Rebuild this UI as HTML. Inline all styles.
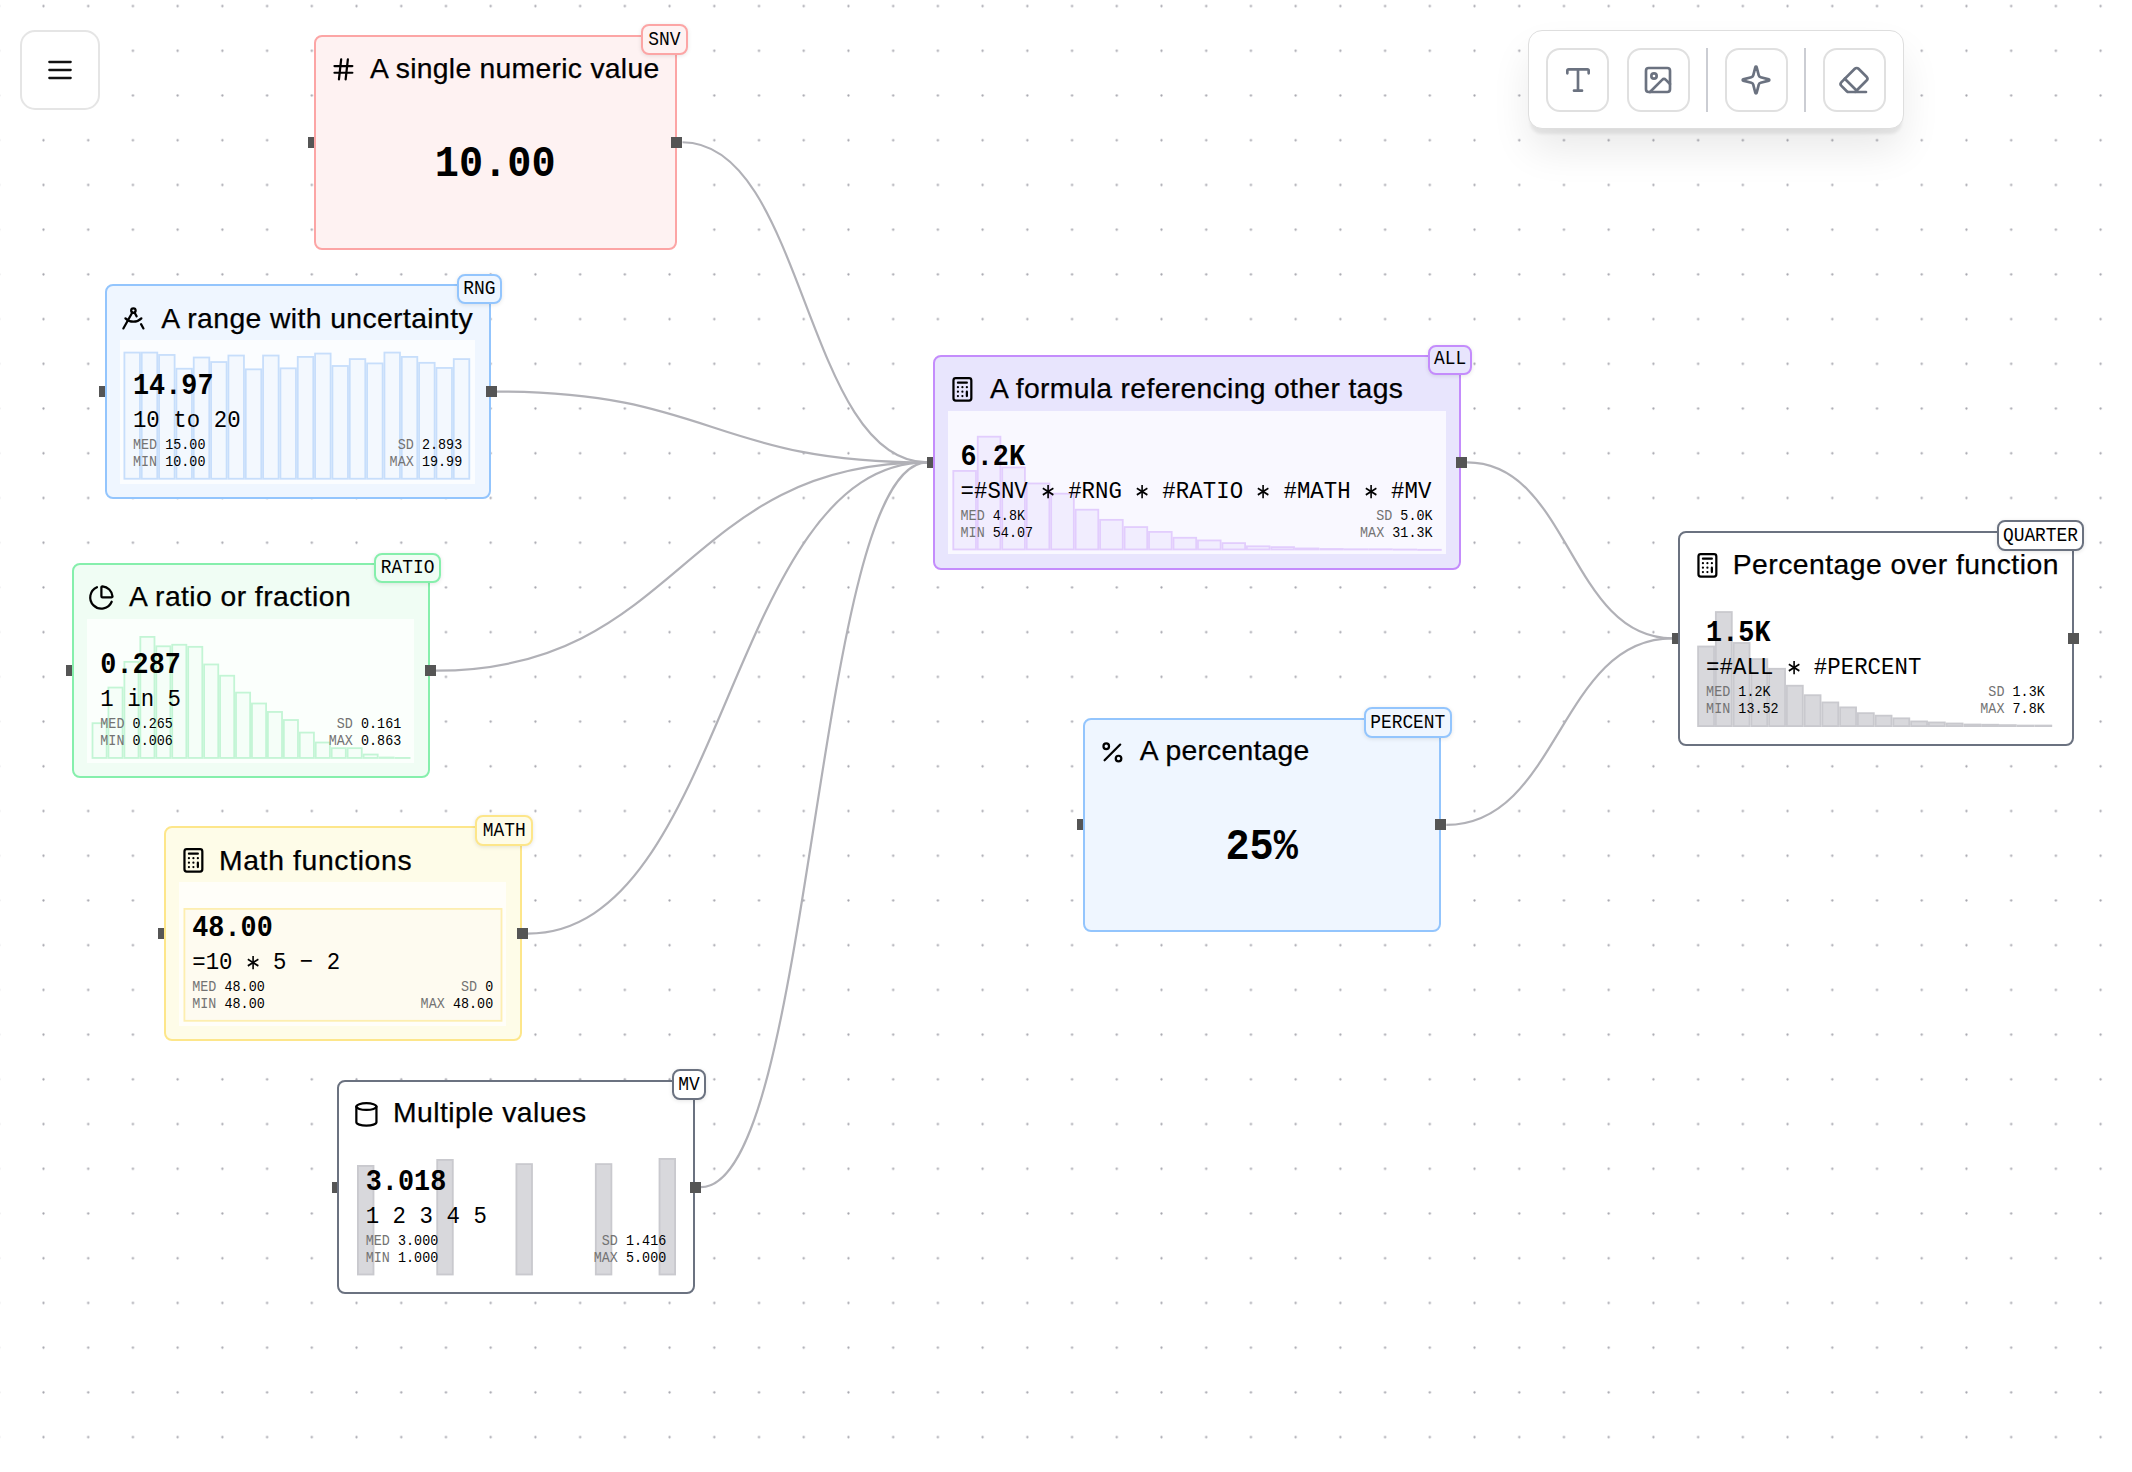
<!DOCTYPE html>
<html><head><meta charset="utf-8"><style>
html,body{margin:0;padding:0;width:2132px;height:1472px;overflow:hidden;background:#fff;}
body{position:relative;font-family:"Liberation Sans",sans-serif;}
</style></head><body>
<svg style="position:absolute;left:0;top:0" width="2132" height="1472"><defs><pattern id="dots" patternUnits="userSpaceOnUse" x="-23.580" y="-16.260" width="44.72" height="44.72"><circle cx="22.36" cy="22.36" r="1.15" fill="#a5a5ad"/></pattern></defs><rect width="2132" height="1472" fill="url(#dots)"/></svg>
<svg style="position:absolute;left:0;top:0" width="2132" height="1472" fill="none" stroke="#b1b1b7" stroke-width="2.2"><path d="M682.50,142.25 C804.90,142.25 804.90,462.45 927.30,462.45"/><path d="M496.70,391.60 C712.00,391.60 712.00,462.45 927.30,462.45"/><path d="M435.80,670.70 C681.55,670.70 681.55,462.45 927.30,462.45"/><path d="M527.70,933.55 C727.50,933.55 727.50,462.45 927.30,462.45"/><path d="M700.80,1187.10 C814.05,1187.10 814.05,462.45 927.30,462.45"/><path d="M1467.10,462.45 C1569.60,462.45 1569.60,638.30 1672.10,638.30"/><path d="M1446.30,824.85 C1559.20,824.85 1559.20,638.30 1672.10,638.30"/></svg>
<div style="position:absolute;left:308.00px;top:136.65px;width:11.2px;height:11.2px;background:#555"></div>
<div style="position:absolute;left:98.90px;top:386.00px;width:11.2px;height:11.2px;background:#555"></div>
<div style="position:absolute;left:66.30px;top:665.10px;width:11.2px;height:11.2px;background:#555"></div>
<div style="position:absolute;left:158.20px;top:927.95px;width:11.2px;height:11.2px;background:#555"></div>
<div style="position:absolute;left:331.70px;top:1181.50px;width:11.2px;height:11.2px;background:#555"></div>
<div style="position:absolute;left:927.30px;top:456.85px;width:11.2px;height:11.2px;background:#555"></div>
<div style="position:absolute;left:1672.10px;top:632.70px;width:11.2px;height:11.2px;background:#555"></div>
<div style="position:absolute;left:1077.00px;top:819.25px;width:11.2px;height:11.2px;background:#555"></div>
<div style="position:absolute;left:313.60px;top:34.60px;width:363.30px;height:215.30px;box-sizing:border-box;border:2.2px solid #fca5a5;border-radius:8px;background:#fef2f2"></div>
<svg style="position:absolute;left:329.50px;top:55.50px" width="26.80" height="26.80" viewBox="0 0 24 24" fill="none" stroke="#000" stroke-width="2" stroke-linecap="round" stroke-linejoin="round"><line x1="4" x2="20" y1="9" y2="9"/><line x1="4" x2="20" y1="15" y2="15"/><line x1="10" x2="8" y1="3" y2="21"/><line x1="16" x2="14" y1="3" y2="21"/></svg>
<div style="position:absolute;left:370.00px;top:54.04px;font-family:'Liberation Sans', sans-serif;font-size:28.30px;line-height:28.30px;color:#000;white-space:pre;letter-spacing:0.289px;-webkit-text-stroke:0.25px #000;">A single numeric value</div>
<div style="position:absolute;left:313.60px;width:363.30px;top:144.33px;text-align:center;font-family:'Liberation Mono',monospace;font-weight:700;font-size:40.25px;line-height:40.25px;color:#000;transform:scaleY(1.088)">10.00</div>
<div style="position:absolute;left:104.50px;top:283.90px;width:386.60px;height:215.40px;box-sizing:border-box;border:2.2px solid #93c5fd;border-radius:8px;background:#eff6ff"></div>
<svg style="position:absolute;left:120.40px;top:304.80px" width="26.80" height="26.80" viewBox="0 0 24 24" fill="none" stroke="#000" stroke-width="2" stroke-linecap="round" stroke-linejoin="round"><path d="m12.99 6.74 1.93 3.44"/><path d="M19.136 12a10 10 0 0 1-14.271 0"/><path d="m21 21-2.16-3.84"/><path d="m3 21 8.02-14.26"/><circle cx="12" cy="5" r="2"/></svg>
<div style="position:absolute;left:161.30px;top:303.64px;font-family:'Liberation Sans', sans-serif;font-size:28.30px;line-height:28.30px;color:#000;white-space:pre;letter-spacing:0.403px;-webkit-text-stroke:0.25px #000;">A range with uncertainty</div>
<div style="position:absolute;left:119.90px;top:340.30px;width:355.30px;height:143.40px;background:rgba(255,255,255,0.72)"></div>
<svg style="position:absolute;left:0;top:0" width="2132" height="1472" fill="#f3f8fe" stroke="#c7defb" stroke-width="1.8"><rect x="124.40" y="352.58" width="15.54" height="126.17"/><rect x="141.74" y="352.58" width="15.54" height="126.17"/><rect x="159.07" y="354.95" width="15.54" height="123.80"/><rect x="176.41" y="368.74" width="15.54" height="110.01"/><rect x="193.74" y="357.51" width="15.54" height="121.24"/><rect x="211.08" y="362.04" width="15.54" height="116.71"/><rect x="228.41" y="355.54" width="15.54" height="123.21"/><rect x="245.75" y="369.33" width="15.54" height="109.42"/><rect x="263.08" y="355.54" width="15.54" height="123.21"/><rect x="280.41" y="368.34" width="15.54" height="110.41"/><rect x="297.75" y="356.92" width="15.54" height="121.83"/><rect x="315.08" y="353.57" width="15.54" height="125.18"/><rect x="332.42" y="365.98" width="15.54" height="112.77"/><rect x="349.75" y="359.08" width="15.54" height="119.67"/><rect x="367.09" y="363.42" width="15.54" height="115.33"/><rect x="384.43" y="352.58" width="15.54" height="126.17"/><rect x="401.76" y="356.92" width="15.54" height="121.83"/><rect x="419.09" y="362.83" width="15.54" height="115.92"/><rect x="436.43" y="367.95" width="15.54" height="110.80"/><rect x="453.76" y="359.08" width="15.54" height="119.67"/></svg>
<div style="position:absolute;left:132.90px;top:373.76px;font-family:'Liberation Mono', monospace;font-size:26.80px;line-height:26.80px;font-weight:700;color:#000;white-space:pre;transform:scaleY(1.088);transform-origin:0 20.54px;letter-spacing:0.054px;">14.97</div>
<div style="position:absolute;left:132.90px;top:410.16px;font-family:'Liberation Mono', monospace;font-size:22.36px;line-height:22.36px;color:#000;white-space:pre;transform:scaleY(1.088);transform-origin:0 17.14px;letter-spacing:0.045px;">10 to 20</div>
<div style="position:absolute;left:132.90px;top:439.03px;font-family:'Liberation Mono', monospace;font-size:13.40px;line-height:13.40px;color:#000;white-space:pre;transform:scaleY(1.088);transform-origin:0 10.27px;letter-spacing:0.027px;"><span style="color:#737373">MED</span> 15.00</div>
<div style="position:absolute;left:132.90px;top:455.73px;font-family:'Liberation Mono', monospace;font-size:13.40px;line-height:13.40px;color:#000;white-space:pre;transform:scaleY(1.088);transform-origin:0 10.27px;letter-spacing:0.027px;"><span style="color:#737373">MIN</span> 10.00</div>
<div style="position:absolute;right:1669.80px;top:439.03px;font-family:'Liberation Mono', monospace;font-size:13.40px;line-height:13.40px;color:#000;white-space:pre;transform:scaleY(1.088);transform-origin:0 10.27px;letter-spacing:0.027px;"><span style="color:#737373">SD</span> 2.893</div>
<div style="position:absolute;right:1669.80px;top:455.73px;font-family:'Liberation Mono', monospace;font-size:13.40px;line-height:13.40px;color:#000;white-space:pre;transform:scaleY(1.088);transform-origin:0 10.27px;letter-spacing:0.027px;"><span style="color:#737373">MAX</span> 19.99</div>
<div style="position:absolute;left:71.90px;top:562.90px;width:358.30px;height:215.60px;box-sizing:border-box;border:2.2px solid #86efac;border-radius:8px;background:#f0fdf4"></div>
<svg style="position:absolute;left:87.80px;top:583.80px" width="26.80" height="26.80" viewBox="0 0 24 24" fill="none" stroke="#000" stroke-width="2" stroke-linecap="round" stroke-linejoin="round"><path d="M21 12c.552 0 1.005-.449.95-.998a10 10 0 0 0-8.953-8.951c-.55-.055-.998.398-.998.95v8a1 1 0 0 0 1 1z"/><path d="M21.21 15.89A10 10 0 1 1 8 2.83"/></svg>
<div style="position:absolute;left:129.00px;top:582.04px;font-family:'Liberation Sans', sans-serif;font-size:28.30px;line-height:28.30px;color:#000;white-space:pre;letter-spacing:0.432px;-webkit-text-stroke:0.25px #000;">A ratio or fraction</div>
<div style="position:absolute;left:87.30px;top:619.30px;width:327.00px;height:143.60px;background:rgba(255,255,255,0.72)"></div>
<svg style="position:absolute;left:0;top:0" width="2132" height="1472" fill="#f5fef8" stroke="#c3f5d5" stroke-width="1.8"><rect x="92.50" y="723.20" width="14.14" height="34.75"/><rect x="108.44" y="687.55" width="14.14" height="70.39"/><rect x="124.39" y="661.85" width="14.14" height="96.10"/><rect x="140.34" y="636.89" width="14.14" height="121.05"/><rect x="156.28" y="646.28" width="14.14" height="111.67"/><rect x="172.22" y="644.77" width="14.14" height="113.17"/><rect x="188.17" y="646.84" width="14.14" height="111.11"/><rect x="204.11" y="664.47" width="14.14" height="93.47"/><rect x="220.06" y="675.73" width="14.14" height="82.21"/><rect x="236.00" y="692.62" width="14.14" height="65.33"/><rect x="251.95" y="703.50" width="14.14" height="54.45"/><rect x="267.89" y="711.94" width="14.14" height="46.00"/><rect x="283.84" y="720.01" width="14.14" height="37.94"/><rect x="299.78" y="732.58" width="14.14" height="25.37"/><rect x="315.73" y="742.52" width="14.14" height="15.42"/><rect x="331.67" y="748.15" width="14.14" height="9.79"/><rect x="347.62" y="748.15" width="14.14" height="9.79"/><rect x="363.56" y="754.53" width="14.14" height="3.42"/><rect x="379.51" y="757.53" width="14.14" height="0.41"/><rect x="395.45" y="757.91" width="14.14" height="0.10"/></svg>
<div style="position:absolute;left:100.30px;top:652.76px;font-family:'Liberation Mono', monospace;font-size:26.80px;line-height:26.80px;font-weight:700;color:#000;white-space:pre;transform:scaleY(1.088);transform-origin:0 20.54px;letter-spacing:0.054px;">0.287</div>
<div style="position:absolute;left:100.30px;top:689.16px;font-family:'Liberation Mono', monospace;font-size:22.36px;line-height:22.36px;color:#000;white-space:pre;transform:scaleY(1.088);transform-origin:0 17.14px;letter-spacing:0.045px;">1 in 5</div>
<div style="position:absolute;left:100.30px;top:718.03px;font-family:'Liberation Mono', monospace;font-size:13.40px;line-height:13.40px;color:#000;white-space:pre;transform:scaleY(1.088);transform-origin:0 10.27px;letter-spacing:0.027px;"><span style="color:#737373">MED</span> 0.265</div>
<div style="position:absolute;left:100.30px;top:734.73px;font-family:'Liberation Mono', monospace;font-size:13.40px;line-height:13.40px;color:#000;white-space:pre;transform:scaleY(1.088);transform-origin:0 10.27px;letter-spacing:0.027px;"><span style="color:#737373">MIN</span> 0.006</div>
<div style="position:absolute;right:1730.70px;top:718.03px;font-family:'Liberation Mono', monospace;font-size:13.40px;line-height:13.40px;color:#000;white-space:pre;transform:scaleY(1.088);transform-origin:0 10.27px;letter-spacing:0.027px;"><span style="color:#737373">SD</span> 0.161</div>
<div style="position:absolute;right:1730.70px;top:734.73px;font-family:'Liberation Mono', monospace;font-size:13.40px;line-height:13.40px;color:#000;white-space:pre;transform:scaleY(1.088);transform-origin:0 10.27px;letter-spacing:0.027px;"><span style="color:#737373">MAX</span> 0.863</div>
<div style="position:absolute;left:163.80px;top:825.70px;width:358.30px;height:215.70px;box-sizing:border-box;border:2.2px solid #fde68a;border-radius:8px;background:#fefce8"></div>
<svg style="position:absolute;left:179.70px;top:846.60px" width="26.80" height="26.80" viewBox="0 0 24 24" fill="none" stroke="#000" stroke-width="2" stroke-linecap="round" stroke-linejoin="round"><rect width="16" height="20" x="4" y="2" rx="2"/><line x1="8" x2="16" y1="6" y2="6"/><line x1="16" x2="16" y1="14" y2="18"/><path d="M16 10h.01"/><path d="M12 10h.01"/><path d="M8 10h.01"/><path d="M12 14h.01"/><path d="M8 14h.01"/><path d="M12 18h.01"/><path d="M8 18h.01"/></svg>
<div style="position:absolute;left:219.00px;top:845.74px;font-family:'Liberation Sans', sans-serif;font-size:28.30px;line-height:28.30px;color:#000;white-space:pre;letter-spacing:0.655px;-webkit-text-stroke:0.25px #000;">Math functions</div>
<div style="position:absolute;left:179.20px;top:882.10px;width:327.00px;height:143.70px;background:rgba(255,255,255,0.72)"></div>
<svg style="position:absolute;left:0;top:0" width="2132" height="1472" fill="#fefbf0" stroke="#fdeeb0" stroke-width="1.8"><rect x="184.4" y="908.9" width="317.1" height="111.9"/></svg>
<div style="position:absolute;left:192.20px;top:915.56px;font-family:'Liberation Mono', monospace;font-size:26.80px;line-height:26.80px;font-weight:700;color:#000;white-space:pre;transform:scaleY(1.088);transform-origin:0 20.54px;letter-spacing:0.054px;">48.00</div>
<div style="position:absolute;left:192.20px;top:951.96px;font-family:'Liberation Mono', monospace;font-size:22.36px;line-height:22.36px;color:#000;white-space:pre;transform:scaleY(1.088);transform-origin:0 17.14px;letter-spacing:0.045px;">=10 <span style="position:relative;display:inline-block;width:13.42px;height:0"><svg style="position:absolute;left:-1.39px;top:-14.50px" width="16.20" height="16.20" viewBox="-8.10 -8.10 16.20 16.20" stroke="#000" stroke-width="1.60"><line x1="0" y1="-6.10" x2="0" y2="6.10"/><line x1="-5.28" y1="-3.05" x2="5.28" y2="3.05"/><line x1="-5.28" y1="3.05" x2="5.28" y2="-3.05"/></svg></span> 5 − 2</div>
<div style="position:absolute;left:192.20px;top:980.83px;font-family:'Liberation Mono', monospace;font-size:13.40px;line-height:13.40px;color:#000;white-space:pre;transform:scaleY(1.088);transform-origin:0 10.27px;letter-spacing:0.027px;"><span style="color:#737373">MED</span> 48.00</div>
<div style="position:absolute;left:192.20px;top:997.53px;font-family:'Liberation Mono', monospace;font-size:13.40px;line-height:13.40px;color:#000;white-space:pre;transform:scaleY(1.088);transform-origin:0 10.27px;letter-spacing:0.027px;"><span style="color:#737373">MIN</span> 48.00</div>
<div style="position:absolute;right:1638.80px;top:980.83px;font-family:'Liberation Mono', monospace;font-size:13.40px;line-height:13.40px;color:#000;white-space:pre;transform:scaleY(1.088);transform-origin:0 10.27px;letter-spacing:0.027px;"><span style="color:#737373">SD</span> 0</div>
<div style="position:absolute;right:1638.80px;top:997.53px;font-family:'Liberation Mono', monospace;font-size:13.40px;line-height:13.40px;color:#000;white-space:pre;transform:scaleY(1.088);transform-origin:0 10.27px;letter-spacing:0.027px;"><span style="color:#737373">MAX</span> 48.00</div>
<div style="position:absolute;left:337.30px;top:1079.70px;width:357.90px;height:214.80px;box-sizing:border-box;border:2.2px solid #6b7280;border-radius:8px;background:#ffffff"></div>
<svg style="position:absolute;left:353.20px;top:1100.60px" width="26.80" height="26.80" viewBox="0 0 24 24" fill="none" stroke="#000" stroke-width="2" stroke-linecap="round" stroke-linejoin="round"><ellipse cx="12" cy="5" rx="9" ry="3"/><path d="M3 5v14a9 3 0 0 0 18 0V5"/></svg>
<div style="position:absolute;left:393.00px;top:1097.94px;font-family:'Liberation Sans', sans-serif;font-size:28.30px;line-height:28.30px;color:#000;white-space:pre;letter-spacing:0.428px;-webkit-text-stroke:0.25px #000;">Multiple values</div>
<svg style="position:absolute;left:0;top:0" width="2132" height="1472" fill="#d8d8dc" stroke="#c9c9ce" stroke-width="1.8"><rect x="357.90" y="1165.90" width="15.60" height="108.60"/><rect x="437.20" y="1159.90" width="15.60" height="114.60"/><rect x="516.40" y="1164.10" width="15.60" height="110.40"/><rect x="595.80" y="1164.10" width="15.60" height="110.40"/><rect x="659.50" y="1158.90" width="15.60" height="115.60"/></svg>
<div style="position:absolute;left:365.70px;top:1169.56px;font-family:'Liberation Mono', monospace;font-size:26.80px;line-height:26.80px;font-weight:700;color:#000;white-space:pre;transform:scaleY(1.088);transform-origin:0 20.54px;letter-spacing:0.054px;">3.018</div>
<div style="position:absolute;left:365.70px;top:1205.96px;font-family:'Liberation Mono', monospace;font-size:22.36px;line-height:22.36px;color:#000;white-space:pre;transform:scaleY(1.088);transform-origin:0 17.14px;letter-spacing:0.045px;">1 2 3 4 5</div>
<div style="position:absolute;left:365.70px;top:1234.83px;font-family:'Liberation Mono', monospace;font-size:13.40px;line-height:13.40px;color:#000;white-space:pre;transform:scaleY(1.088);transform-origin:0 10.27px;letter-spacing:0.027px;"><span style="color:#737373">MED</span> 3.000</div>
<div style="position:absolute;left:365.70px;top:1251.53px;font-family:'Liberation Mono', monospace;font-size:13.40px;line-height:13.40px;color:#000;white-space:pre;transform:scaleY(1.088);transform-origin:0 10.27px;letter-spacing:0.027px;"><span style="color:#737373">MIN</span> 1.000</div>
<div style="position:absolute;right:1465.70px;top:1234.83px;font-family:'Liberation Mono', monospace;font-size:13.40px;line-height:13.40px;color:#000;white-space:pre;transform:scaleY(1.088);transform-origin:0 10.27px;letter-spacing:0.027px;"><span style="color:#737373">SD</span> 1.416</div>
<div style="position:absolute;right:1465.70px;top:1251.53px;font-family:'Liberation Mono', monospace;font-size:13.40px;line-height:13.40px;color:#000;white-space:pre;transform:scaleY(1.088);transform-origin:0 10.27px;letter-spacing:0.027px;"><span style="color:#737373">MAX</span> 5.000</div>
<div style="position:absolute;left:932.90px;top:355.00px;width:528.60px;height:214.90px;box-sizing:border-box;border:2.2px solid #c48cfc;border-radius:8px;background:#e8e5fd"></div>
<svg style="position:absolute;left:948.80px;top:375.90px" width="26.80" height="26.80" viewBox="0 0 24 24" fill="none" stroke="#000" stroke-width="2" stroke-linecap="round" stroke-linejoin="round"><rect width="16" height="20" x="4" y="2" rx="2"/><line x1="8" x2="16" y1="6" y2="6"/><line x1="16" x2="16" y1="14" y2="18"/><path d="M16 10h.01"/><path d="M12 10h.01"/><path d="M8 10h.01"/><path d="M12 14h.01"/><path d="M8 14h.01"/><path d="M12 18h.01"/><path d="M8 18h.01"/></svg>
<div style="position:absolute;left:989.90px;top:374.44px;font-family:'Liberation Sans', sans-serif;font-size:28.30px;line-height:28.30px;color:#000;white-space:pre;letter-spacing:0.333px;-webkit-text-stroke:0.25px #000;">A formula referencing other tags</div>
<div style="position:absolute;left:948.30px;top:411.40px;width:497.30px;height:142.90px;background:rgba(255,255,255,0.72)"></div>
<svg style="position:absolute;left:0;top:0" width="2132" height="1472" fill="#f1edfe" stroke="#e2cdfd" stroke-width="1.8"><rect x="953.30" y="470.93" width="22.67" height="78.51"/><rect x="977.76" y="436.70" width="22.67" height="112.74"/><rect x="1002.23" y="467.45" width="22.67" height="81.99"/><rect x="1026.70" y="483.49" width="22.67" height="65.94"/><rect x="1051.16" y="493.65" width="22.67" height="55.78"/><rect x="1075.62" y="509.70" width="22.67" height="39.74"/><rect x="1100.09" y="519.86" width="22.67" height="29.58"/><rect x="1124.56" y="527.08" width="22.67" height="22.36"/><rect x="1149.02" y="531.89" width="22.67" height="17.55"/><rect x="1173.49" y="537.77" width="22.67" height="11.67"/><rect x="1197.95" y="540.45" width="22.67" height="8.99"/><rect x="1222.41" y="543.12" width="22.67" height="6.32"/><rect x="1246.88" y="546.33" width="22.67" height="3.11"/><rect x="1271.35" y="547.13" width="22.67" height="2.31"/><rect x="1295.81" y="548.47" width="22.67" height="0.97"/><rect x="1320.28" y="549.00" width="22.67" height="0.44"/><rect x="1344.74" y="549.27" width="22.67" height="0.17"/><rect x="1369.21" y="549.27" width="22.67" height="0.17"/><rect x="1393.67" y="549.54" width="22.67" height="0.10"/><rect x="1418.14" y="549.80" width="22.67" height="0.10"/></svg>
<div style="position:absolute;left:960.50px;top:445.36px;font-family:'Liberation Mono', monospace;font-size:26.80px;line-height:26.80px;font-weight:700;color:#000;white-space:pre;transform:scaleY(1.088);transform-origin:0 20.54px;letter-spacing:0.054px;">6.2K</div>
<div style="position:absolute;left:960.50px;top:481.26px;font-family:'Liberation Mono', monospace;font-size:22.36px;line-height:22.36px;color:#000;white-space:pre;transform:scaleY(1.088);transform-origin:0 17.14px;letter-spacing:0.045px;">=#SNV <span style="position:relative;display:inline-block;width:13.42px;height:0"><svg style="position:absolute;left:-1.39px;top:-14.50px" width="16.20" height="16.20" viewBox="-8.10 -8.10 16.20 16.20" stroke="#000" stroke-width="1.60"><line x1="0" y1="-6.10" x2="0" y2="6.10"/><line x1="-5.28" y1="-3.05" x2="5.28" y2="3.05"/><line x1="-5.28" y1="3.05" x2="5.28" y2="-3.05"/></svg></span> #RNG <span style="position:relative;display:inline-block;width:13.42px;height:0"><svg style="position:absolute;left:-1.39px;top:-14.50px" width="16.20" height="16.20" viewBox="-8.10 -8.10 16.20 16.20" stroke="#000" stroke-width="1.60"><line x1="0" y1="-6.10" x2="0" y2="6.10"/><line x1="-5.28" y1="-3.05" x2="5.28" y2="3.05"/><line x1="-5.28" y1="3.05" x2="5.28" y2="-3.05"/></svg></span> #RATIO <span style="position:relative;display:inline-block;width:13.42px;height:0"><svg style="position:absolute;left:-1.39px;top:-14.50px" width="16.20" height="16.20" viewBox="-8.10 -8.10 16.20 16.20" stroke="#000" stroke-width="1.60"><line x1="0" y1="-6.10" x2="0" y2="6.10"/><line x1="-5.28" y1="-3.05" x2="5.28" y2="3.05"/><line x1="-5.28" y1="3.05" x2="5.28" y2="-3.05"/></svg></span> #MATH <span style="position:relative;display:inline-block;width:13.42px;height:0"><svg style="position:absolute;left:-1.39px;top:-14.50px" width="16.20" height="16.20" viewBox="-8.10 -8.10 16.20 16.20" stroke="#000" stroke-width="1.60"><line x1="0" y1="-6.10" x2="0" y2="6.10"/><line x1="-5.28" y1="-3.05" x2="5.28" y2="3.05"/><line x1="-5.28" y1="3.05" x2="5.28" y2="-3.05"/></svg></span> #MV</div>
<div style="position:absolute;left:960.50px;top:510.13px;font-family:'Liberation Mono', monospace;font-size:13.40px;line-height:13.40px;color:#000;white-space:pre;transform:scaleY(1.088);transform-origin:0 10.27px;letter-spacing:0.027px;"><span style="color:#737373">MED</span> 4.8K</div>
<div style="position:absolute;left:960.50px;top:526.83px;font-family:'Liberation Mono', monospace;font-size:13.40px;line-height:13.40px;color:#000;white-space:pre;transform:scaleY(1.088);transform-origin:0 10.27px;letter-spacing:0.027px;"><span style="color:#737373">MIN</span> 54.07</div>
<div style="position:absolute;right:699.40px;top:510.13px;font-family:'Liberation Mono', monospace;font-size:13.40px;line-height:13.40px;color:#000;white-space:pre;transform:scaleY(1.088);transform-origin:0 10.27px;letter-spacing:0.027px;"><span style="color:#737373">SD</span> 5.0K</div>
<div style="position:absolute;right:699.40px;top:526.83px;font-family:'Liberation Mono', monospace;font-size:13.40px;line-height:13.40px;color:#000;white-space:pre;transform:scaleY(1.088);transform-origin:0 10.27px;letter-spacing:0.027px;"><span style="color:#737373">MAX</span> 31.3K</div>
<div style="position:absolute;left:1677.70px;top:530.80px;width:396.00px;height:215.00px;box-sizing:border-box;border:2.2px solid #6b7280;border-radius:8px;background:#ffffff"></div>
<svg style="position:absolute;left:1693.60px;top:551.70px" width="26.80" height="26.80" viewBox="0 0 24 24" fill="none" stroke="#000" stroke-width="2" stroke-linecap="round" stroke-linejoin="round"><rect width="16" height="20" x="4" y="2" rx="2"/><line x1="8" x2="16" y1="6" y2="6"/><line x1="16" x2="16" y1="14" y2="18"/><path d="M16 10h.01"/><path d="M12 10h.01"/><path d="M8 10h.01"/><path d="M12 14h.01"/><path d="M8 14h.01"/><path d="M12 18h.01"/><path d="M8 18h.01"/></svg>
<div style="position:absolute;left:1732.70px;top:550.04px;font-family:'Liberation Sans', sans-serif;font-size:28.30px;line-height:28.30px;color:#000;white-space:pre;letter-spacing:0.484px;-webkit-text-stroke:0.25px #000;">Percentage over function</div>
<svg style="position:absolute;left:0;top:0" width="2132" height="1472" fill="#d8d8dc" stroke="#c9c9ce" stroke-width="1.8"><rect x="1698.10" y="646.50" width="15.95" height="79.60"/><rect x="1715.85" y="612.04" width="15.95" height="114.06"/><rect x="1733.60" y="642.99" width="15.95" height="83.10"/><rect x="1751.35" y="659.09" width="15.95" height="67.01"/><rect x="1769.10" y="668.79" width="15.95" height="57.30"/><rect x="1786.85" y="685.72" width="15.95" height="40.38"/><rect x="1804.60" y="695.21" width="15.95" height="30.89"/><rect x="1822.35" y="702.44" width="15.95" height="23.66"/><rect x="1840.10" y="707.39" width="15.95" height="18.71"/><rect x="1857.85" y="713.17" width="15.95" height="12.93"/><rect x="1875.60" y="715.65" width="15.95" height="10.45"/><rect x="1893.35" y="718.33" width="15.95" height="7.77"/><rect x="1911.10" y="721.43" width="15.95" height="4.67"/><rect x="1928.85" y="722.46" width="15.95" height="3.64"/><rect x="1946.60" y="723.49" width="15.95" height="2.61"/><rect x="1964.35" y="724.52" width="15.95" height="1.58"/><rect x="1982.10" y="724.73" width="15.95" height="1.37"/><rect x="1999.85" y="725.14" width="15.95" height="0.96"/><rect x="2017.60" y="725.55" width="15.95" height="0.54"/><rect x="2035.35" y="725.55" width="15.95" height="0.54"/></svg>
<div style="position:absolute;left:1706.10px;top:620.66px;font-family:'Liberation Mono', monospace;font-size:26.80px;line-height:26.80px;font-weight:700;color:#000;white-space:pre;transform:scaleY(1.088);transform-origin:0 20.54px;letter-spacing:0.054px;">1.5K</div>
<div style="position:absolute;left:1706.10px;top:657.06px;font-family:'Liberation Mono', monospace;font-size:22.36px;line-height:22.36px;color:#000;white-space:pre;transform:scaleY(1.088);transform-origin:0 17.14px;letter-spacing:0.045px;">=#ALL <span style="position:relative;display:inline-block;width:13.42px;height:0"><svg style="position:absolute;left:-1.39px;top:-14.50px" width="16.20" height="16.20" viewBox="-8.10 -8.10 16.20 16.20" stroke="#000" stroke-width="1.60"><line x1="0" y1="-6.10" x2="0" y2="6.10"/><line x1="-5.28" y1="-3.05" x2="5.28" y2="3.05"/><line x1="-5.28" y1="3.05" x2="5.28" y2="-3.05"/></svg></span> #PERCENT</div>
<div style="position:absolute;left:1706.10px;top:685.93px;font-family:'Liberation Mono', monospace;font-size:13.40px;line-height:13.40px;color:#000;white-space:pre;transform:scaleY(1.088);transform-origin:0 10.27px;letter-spacing:0.027px;"><span style="color:#737373">MED</span> 1.2K</div>
<div style="position:absolute;left:1706.10px;top:702.63px;font-family:'Liberation Mono', monospace;font-size:13.40px;line-height:13.40px;color:#000;white-space:pre;transform:scaleY(1.088);transform-origin:0 10.27px;letter-spacing:0.027px;"><span style="color:#737373">MIN</span> 13.52</div>
<div style="position:absolute;right:87.20px;top:685.93px;font-family:'Liberation Mono', monospace;font-size:13.40px;line-height:13.40px;color:#000;white-space:pre;transform:scaleY(1.088);transform-origin:0 10.27px;letter-spacing:0.027px;"><span style="color:#737373">SD</span> 1.3K</div>
<div style="position:absolute;right:87.20px;top:702.63px;font-family:'Liberation Mono', monospace;font-size:13.40px;line-height:13.40px;color:#000;white-space:pre;transform:scaleY(1.088);transform-origin:0 10.27px;letter-spacing:0.027px;"><span style="color:#737373">MAX</span> 7.8K</div>
<div style="position:absolute;left:1082.60px;top:717.60px;width:358.10px;height:214.50px;box-sizing:border-box;border:2.2px solid #93c5fd;border-radius:8px;background:#eff6ff"></div>
<svg style="position:absolute;left:1098.50px;top:738.50px" width="26.80" height="26.80" viewBox="0 0 24 24" fill="none" stroke="#000" stroke-width="2" stroke-linecap="round" stroke-linejoin="round"><line x1="19" x2="5" y1="5" y2="19"/><circle cx="6.5" cy="6.5" r="2.5"/><circle cx="17.5" cy="17.5" r="2.5"/></svg>
<div style="position:absolute;left:1139.80px;top:736.44px;font-family:'Liberation Sans', sans-serif;font-size:28.30px;line-height:28.30px;color:#000;white-space:pre;letter-spacing:0.237px;-webkit-text-stroke:0.25px #000;">A percentage</div>
<div style="position:absolute;left:1082.60px;width:358.10px;top:826.92px;text-align:center;font-family:'Liberation Mono',monospace;font-weight:700;font-size:40.25px;line-height:40.25px;color:#000;transform:scaleY(1.088)">25%</div>
<div style="position:absolute;left:671.30px;top:136.65px;width:11.2px;height:11.2px;background:#555"></div>
<div style="position:absolute;left:485.50px;top:386.00px;width:11.2px;height:11.2px;background:#555"></div>
<div style="position:absolute;left:424.60px;top:665.10px;width:11.2px;height:11.2px;background:#555"></div>
<div style="position:absolute;left:516.50px;top:927.95px;width:11.2px;height:11.2px;background:#555"></div>
<div style="position:absolute;left:689.60px;top:1181.50px;width:11.2px;height:11.2px;background:#555"></div>
<div style="position:absolute;left:1455.90px;top:456.85px;width:11.2px;height:11.2px;background:#555"></div>
<div style="position:absolute;left:2068.10px;top:632.70px;width:11.2px;height:11.2px;background:#555"></div>
<div style="position:absolute;left:1435.10px;top:819.25px;width:11.2px;height:11.2px;background:#555"></div>
<div style="position:absolute;left:640.80px;top:23.80px;width:47.30px;height:31.60px;box-sizing:border-box;border:2.2px solid #fca5a5;border-radius:8px;background:#fef2f2;box-shadow:0 1px 4px rgba(0,0,0,0.10);font-family:'Liberation Mono',monospace;font-size:17.9px;line-height:27.20px;text-align:center;color:#000"><span style="position:relative;top:0.9px;display:inline-block;transform:scaleY(1.088)">SNV</span></div>
<div style="position:absolute;left:456.70px;top:273.50px;width:45.30px;height:30.60px;box-sizing:border-box;border:2.2px solid #93c5fd;border-radius:8px;background:#eff6ff;box-shadow:0 1px 4px rgba(0,0,0,0.10);font-family:'Liberation Mono',monospace;font-size:17.9px;line-height:26.20px;text-align:center;color:#000"><span style="position:relative;top:0.9px;display:inline-block;transform:scaleY(1.088)">RNG</span></div>
<div style="position:absolute;left:374.20px;top:553.00px;width:67.00px;height:30.20px;box-sizing:border-box;border:2.2px solid #86efac;border-radius:8px;background:#f0fdf4;box-shadow:0 1px 4px rgba(0,0,0,0.10);font-family:'Liberation Mono',monospace;font-size:17.9px;line-height:25.80px;text-align:center;color:#000"><span style="position:relative;top:0.9px;display:inline-block;transform:scaleY(1.088)">RATIO</span></div>
<div style="position:absolute;left:475.30px;top:814.90px;width:57.80px;height:31.10px;box-sizing:border-box;border:2.2px solid #fde68a;border-radius:8px;background:#fefce8;box-shadow:0 1px 4px rgba(0,0,0,0.10);font-family:'Liberation Mono',monospace;font-size:17.9px;line-height:26.70px;text-align:center;color:#000"><span style="position:relative;top:0.9px;display:inline-block;transform:scaleY(1.088)">MATH</span></div>
<div style="position:absolute;left:672.00px;top:1069.00px;width:34.20px;height:31.10px;box-sizing:border-box;border:2.2px solid #6b7280;border-radius:8px;background:#ffffff;box-shadow:0 1px 4px rgba(0,0,0,0.10);font-family:'Liberation Mono',monospace;font-size:17.9px;line-height:26.70px;text-align:center;color:#000"><span style="position:relative;top:0.9px;display:inline-block;transform:scaleY(1.088)">MV</span></div>
<div style="position:absolute;left:1427.70px;top:344.50px;width:44.70px;height:30.00px;box-sizing:border-box;border:2.2px solid #c48cfc;border-radius:8px;background:#e8e5fd;box-shadow:0 1px 4px rgba(0,0,0,0.10);font-family:'Liberation Mono',monospace;font-size:17.9px;line-height:25.60px;text-align:center;color:#000"><span style="position:relative;top:0.9px;display:inline-block;transform:scaleY(1.088)">ALL</span></div>
<div style="position:absolute;left:1996.80px;top:520.30px;width:87.40px;height:30.60px;box-sizing:border-box;border:2.2px solid #6b7280;border-radius:8px;background:#ffffff;box-shadow:0 1px 4px rgba(0,0,0,0.10);font-family:'Liberation Mono',monospace;font-size:17.9px;line-height:26.20px;text-align:center;color:#000"><span style="position:relative;top:0.9px;display:inline-block;transform:scaleY(1.088)">QUARTER</span></div>
<div style="position:absolute;left:1363.50px;top:707.10px;width:88.50px;height:30.50px;box-sizing:border-box;border:2.2px solid #93c5fd;border-radius:8px;background:#eff6ff;box-shadow:0 1px 4px rgba(0,0,0,0.10);font-family:'Liberation Mono',monospace;font-size:17.9px;line-height:26.10px;text-align:center;color:#000"><span style="position:relative;top:0.9px;display:inline-block;transform:scaleY(1.088)">PERCENT</span></div>
<div style="position:absolute;left:19.7px;top:29.6px;width:80.4px;height:80.4px;box-sizing:border-box;border:2px solid #e5e5e5;border-radius:15px;background:#fff"></div>
<svg style="position:absolute;left:44.00px;top:54.00px" width="32.00" height="32.00" viewBox="0 0 24 24" fill="none" stroke="#111" stroke-width="1.7329332333083274" stroke-linecap="round" stroke-linejoin="round"><line x1="4" x2="20" y1="12" y2="12"/><line x1="4" x2="20" y1="6" y2="6"/><line x1="4" x2="20" y1="18" y2="18"/></svg>
<div style="position:absolute;left:1528.3px;top:30.2px;width:376.0px;height:98.8px;box-sizing:border-box;border:1.8px solid #dedede;border-radius:14px;background:#fff;box-shadow:0 7px 3px -2px rgba(0,0,0,0.07),0 22px 40px -2px rgba(0,0,0,0.09)"></div>
<div style="position:absolute;left:1546.30px;top:48px;width:63px;height:63.5px;box-sizing:border-box;border:2.1px solid #e0e0e0;border-radius:14px;background:#fff"></div>
<svg style="position:absolute;left:1561.80px;top:63.90px" width="32.00" height="32.00" viewBox="0 0 24 24" fill="none" stroke="#6b7280" stroke-width="2" stroke-linecap="round" stroke-linejoin="round"><path d="M12 4v16"/><path d="M4 7V5a1 1 0 0 1 1-1h14a1 1 0 0 1 1 1v2"/><path d="M9 20h6"/></svg>
<div style="position:absolute;left:1626.50px;top:48px;width:63px;height:63.5px;box-sizing:border-box;border:2.1px solid #e0e0e0;border-radius:14px;background:#fff"></div>
<svg style="position:absolute;left:1642.00px;top:63.90px" width="32.00" height="32.00" viewBox="0 0 24 24" fill="none" stroke="#6b7280" stroke-width="2" stroke-linecap="round" stroke-linejoin="round"><rect width="18" height="18" x="3" y="3" rx="2" ry="2"/><circle cx="9" cy="9" r="2"/><path d="m21 15-3.086-3.086a2 2 0 0 0-2.828 0L6 21"/></svg>
<div style="position:absolute;left:1724.80px;top:48px;width:63px;height:63.5px;box-sizing:border-box;border:2.1px solid #e0e0e0;border-radius:14px;background:#fff"></div>
<svg style="position:absolute;left:1740.30px;top:63.90px" width="32.00" height="32.00" viewBox="0 0 24 24" fill="none" stroke="#6b7280" stroke-width="2" stroke-linecap="round" stroke-linejoin="round"><path d="M9.937 15.5A2 2 0 0 0 8.5 14.063l-6.135-1.582a.5.5 0 0 1 0-.962L8.5 9.936A2 2 0 0 0 9.937 8.5l1.582-6.135a.5.5 0 0 1 .963 0L14.063 8.5A2 2 0 0 0 15.5 9.937l6.135 1.581a.5.5 0 0 1 0 .964L15.5 14.063a2 2 0 0 0-1.437 1.437l-1.582 6.135a.5.5 0 0 1-.963 0z"/></svg>
<div style="position:absolute;left:1822.50px;top:48px;width:63px;height:63.5px;box-sizing:border-box;border:2.1px solid #e0e0e0;border-radius:14px;background:#fff"></div>
<svg style="position:absolute;left:1838.00px;top:63.90px" width="32.00" height="32.00" viewBox="0 0 24 24" fill="none" stroke="#6b7280" stroke-width="2" stroke-linecap="round" stroke-linejoin="round"><path d="M21 21H8a2 2 0 0 1-1.42-.587l-3.994-3.999a2 2 0 0 1 0-2.828l10-10a2 2 0 0 1 2.829 0l5.999 6a2 2 0 0 1 0 2.828L12.834 21"/><path d="m5.082 11.09 8.828 8.828"/></svg>
<div style="position:absolute;left:1706.00px;top:48px;width:1.8px;height:63.5px;background:#cbcdd3"></div>
<div style="position:absolute;left:1804.30px;top:48px;width:1.8px;height:63.5px;background:#cbcdd3"></div>
</body></html>
